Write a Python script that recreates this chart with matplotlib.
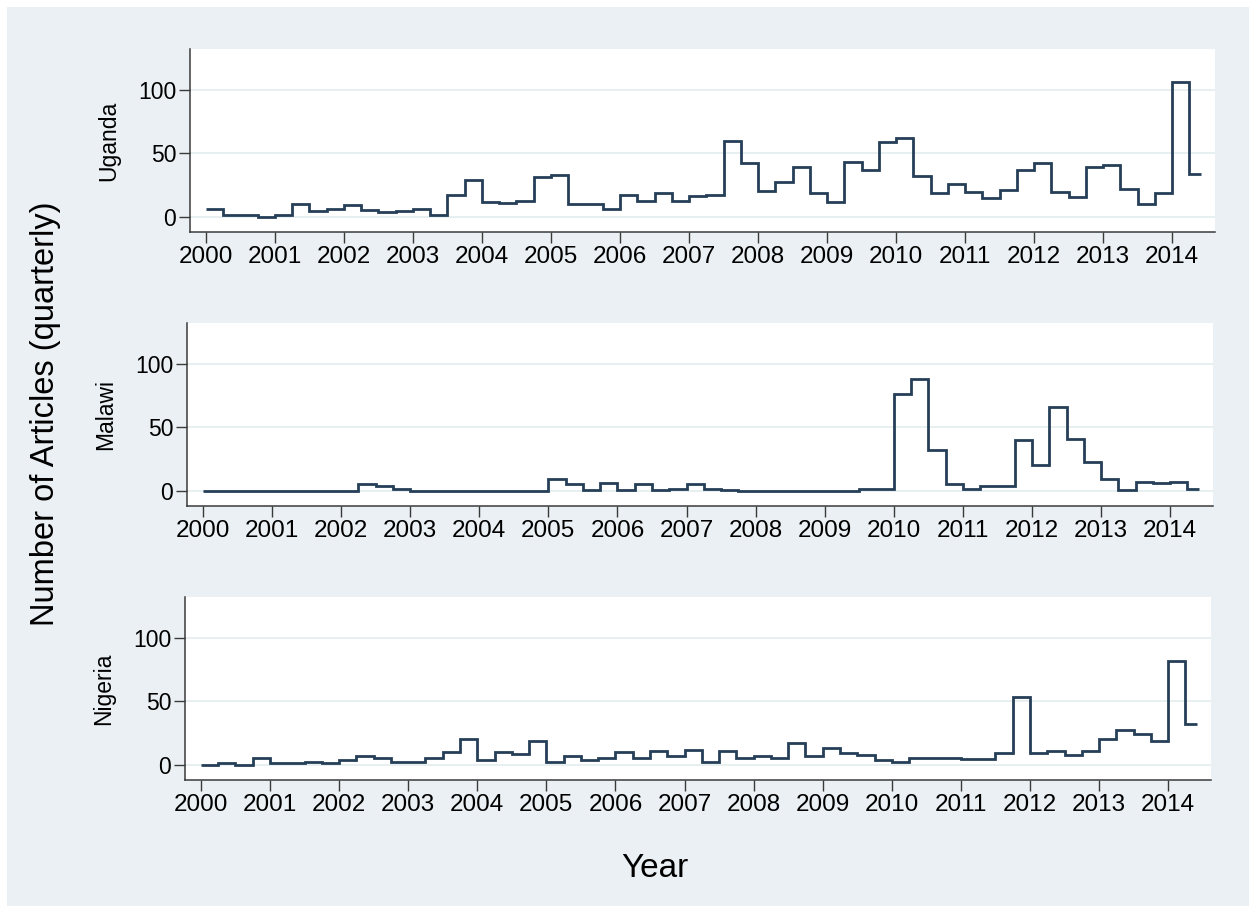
import numpy as np
import matplotlib
matplotlib.use('Agg')
import matplotlib.pyplot as plt
from matplotlib.patches import Rectangle

plt.rcParams['font.family'] = ['Liberation Sans', 'DejaVu Sans']

# quarterly counts, 2000Q1 .. 2014Q2
uganda = [6, 1, 1, 0, 1, 10, 4.5, 6, 9, 5, 3.5, 4.5, 6, 1, 17, 29,
          12, 11, 12.5, 31, 33, 10, 10, 6, 17, 12.5, 19, 12.5, 16.5, 17, 60, 42,
          20, 27, 39, 18.5, 11.5, 43, 36.5, 59, 62, 32, 18.5, 26, 19.5, 15, 21, 37,
          42, 19.5, 15.5, 39, 41, 21.5, 10, 19, 106, 34]
malawi = [0, 0, 0, 0, 0, 0, 0, 0, 0, 5.5, 4, 1.5, 0, 0, 0, 0,
          0, 0, 0, 0, 9.5, 5, 0.5, 6, 0.5, 5, 0.5, 1.5, 5, 1.5, 0.5, 0,
          0, 0, 0, 0, 0, 0, 1.5, 1.5, 76, 88, 32, 5.5, 1.5, 3.5, 3.5, 40,
          20, 66, 41, 23, 9, 0.5, 7, 6, 7, 1.5]
nigeria = [0, 1, 0, 5, 1, 1, 2.5, 1, 4, 6.5, 5.5, 2, 2, 5, 10, 20,
           4, 10, 8.5, 19, 2.5, 6.5, 3.5, 5.5, 10, 5.5, 10.5, 6.5, 11.5, 2, 10.5, 5.5,
           6.5, 5.5, 17, 6.5, 13.5, 9, 8, 4, 2.5, 5, 5, 5, 4.5, 4.5, 9, 53,
           9, 11, 8, 11, 20, 27, 24.5, 19, 82, 32]
countries = ['Uganda', 'Malawi', 'Nigeria']
series = [uganda, malawi, nigeria]

years = list(range(2000, 2015))
yticks = [0, 50, 100]

# x positions: start of each quarter, series ends in June 2014 (monthly date axis)
quarter_start = 2000 + np.arange(len(uganda)) / 4
last_month = 2014 + 5 / 12
edges = np.append(quarter_start, last_month)

bg = '#EAF0F3'
line_col = '#253F58'
axis_col = '#3a3a3a'

W, H = 1256, 913
fig = plt.figure(figsize=(W / 100, H / 100), dpi=100, facecolor='white')
fig.patches.append(Rectangle((7 / W, 7 / H), 1 - 14 / W, 1 - 14 / H,
                             transform=fig.transFigure, facecolor=bg,
                             edgecolor='none', zorder=-10))

# panel boxes in pixels: left, top, right, bottom
boxes = [(190, 49, 1215, 232), (187, 323, 1213, 506), (185, 597, 1211, 780)]

for name, vals, (l, t, r, b) in zip(countries, series, boxes):
    ax = fig.add_axes([l / W, 1 - b / H, (r - l) / W, (b - t) / H])
    ax.set_facecolor('white')
    ax.stairs(vals, edges, baseline=None, color=line_col, linewidth=2.0)
    ax.set_xlim(1999.77, 2014.62)
    ax.set_ylim(-12, 132)
    ax.set_xticks(years)
    ax.set_yticks(yticks)
    ax.grid(axis='y', color='#E4ECEF', linewidth=1.2)
    ax.set_axisbelow(True)
    for s in ['top', 'right']:
        ax.spines[s].set_visible(False)
    for s in ['left', 'bottom']:
        ax.spines[s].set_color(axis_col)
        ax.spines[s].set_linewidth(1.1)
    ax.tick_params(axis='both', direction='out', length=8, width=1.0,
                   color=axis_col, pad=2)
    ax.tick_params(axis='x', labelsize=17.5)
    ax.tick_params(axis='y', labelsize=16.5)
    ax.text(-81 / (r - l), 0.5, name, transform=ax.transAxes, rotation=90,
            ha='center', va='center', fontsize=16.5)

fig.text(46 / W, 1 - 414 / H, 'Number of Articles (quarterly)', rotation=90,
         ha='center', va='center', fontsize=23.5)
fig.text(655 / W, 1 - 868 / H, 'Year', ha='center', va='center', fontsize=24)

fig.savefig('out.png', dpi=100, facecolor='white')
